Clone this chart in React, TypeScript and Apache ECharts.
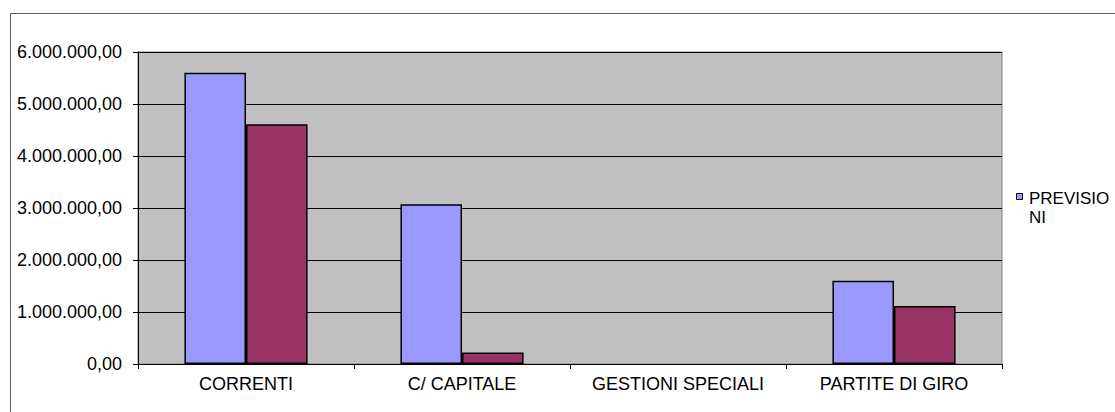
import React, { useEffect, useRef } from "react";
import * as echarts from "echarts";

const categories = ["CORRENTI", "C/ CAPITALE", "GESTIONI SPECIALI", "PARTITE DI GIRO"];
const previsioni = [5600000, 3070000, 0, 1600000];
const serie2 = [4610000, 220000, 0, 1115000];
const legendLabel = "PREVISIONI";

const FONT = "'Liberation Sans', Arial, sans-serif";

function fmtIt(v: number): string {
  const int = Math.round(v).toString().replace(/\B(?=(\d{3})+(?!\d))/g, ".");
  return int + ",00";
}

function barData(values: number[]) {
  return values.map((v) => (v === 0 ? { value: v, itemStyle: { borderWidth: 0 } } : v));
}

export default function App() {
  const ref = useRef<HTMLDivElement>(null);
  useEffect(() => {
    if (!ref.current) return;
    const chart = echarts.init(ref.current, null, { renderer: "svg" });
    chart.setOption({
      animation: false,
      backgroundColor: "#ffffff",
      textStyle: { fontFamily: FONT },
      grid: {
        left: 138,
        right: 113,
        top: 52,
        bottom: 48,
        show: true,
        backgroundColor: "#C0C0C0",
        borderColor: "#808080",
        borderWidth: 1,
      },
      xAxis: {
        type: "category",
        data: categories,
        axisLine: { show: true, lineStyle: { color: "#000", width: 1 } },
        axisTick: { show: true, length: 5, lineStyle: { color: "#000" } },
        axisLabel: { color: "#000", fontSize: 18, fontFamily: FONT, margin: 11, interval: 0 },
        splitLine: { show: false },
      },
      yAxis: {
        type: "value",
        min: 0,
        max: 6000000,
        interval: 1000000,
        axisLine: { show: true, lineStyle: { color: "#000", width: 1 } },
        axisTick: { show: true, length: 5, lineStyle: { color: "#000" } },
        axisLabel: {
          color: "#000",
          fontSize: 18,
          fontFamily: FONT,
          margin: 16,
          formatter: (v: number) => fmtIt(v),
        },
        splitLine: { show: true, lineStyle: { color: "#000", width: 1 } },
      },
      series: [
        {
          name: legendLabel,
          type: "bar",
          data: barData(previsioni),
          barGap: "0%",
          barCategoryGap: "43%",
          itemStyle: { color: "#9999FF", borderColor: "#000", borderWidth: 1.5 },
        },
        {
          name: "Serie2",
          type: "bar",
          data: barData(serie2),
          barGap: "0%",
          barCategoryGap: "43%",
          itemStyle: { color: "#993366", borderColor: "#000", borderWidth: 1.5 },
        },
      ],
      graphic: [
        {
          type: "rect",
          silent: true,
          shape: { x: 10.5, y: 13.5, width: 1120, height: 420 },
          style: { fill: "none", stroke: "#606060", lineWidth: 1 },
          z: 100,
        },
        {
          type: "rect",
          shape: { x: 1016.5, y: 193.5, width: 6, height: 6 },
          style: { fill: "#9999FF", stroke: "#000", lineWidth: 1 },
        },
        {
          type: "text",
          x: 1029,
          y: 189,
          style: {
            text: "PREVISIO\nNI",
            fill: "#000",
            fontSize: 17,
            fontFamily: FONT,
            lineHeight: 19,
            textVerticalAlign: "top",
          },
        },
      ],
    });
    return () => chart.dispose();
  }, []);
  return (
    <div
      ref={ref}
      style={{ position: "absolute", left: 0, top: 0, width: 1115, height: 412 }}
    />
  );
}
